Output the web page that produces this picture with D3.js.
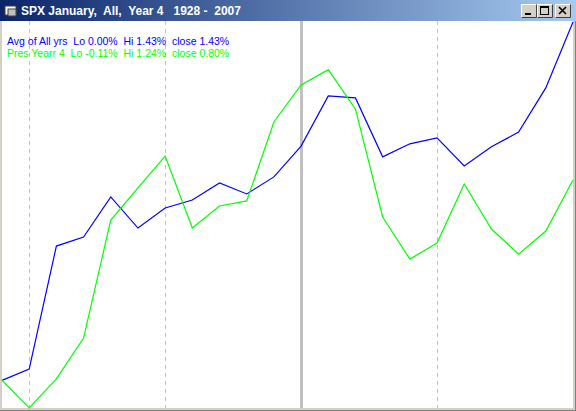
<!DOCTYPE html>
<html lang="en">
<head>
<meta charset="UTF-8">
<title>SPX January, All, Year 4</title>
<script src="https://d3js.org/d3.v7.min.js"></script>
<style>
  body { margin: 0; background: #d4d0c8; }
  svg { display: block; }
</style>
</head>
<body>
<svg id="chart" width="576" height="411"></svg>
<script>
// trading days of January (0 = prior close)
const days = d3.range(0, 22);

// average of all years, % change from start
const avgAll = [0, 0.045, 0.536, 0.572, 0.732, 0.608, 0.688, 0.720, 0.788, 0.744, 0.812,
                0.935, 1.135, 1.127, 0.892, 0.944, 0.968, 0.856, 0.932, 0.991, 1.167, 1.43];

// presidential year 4
const presYear4 = [0, -0.11, 0.006, 0.169, 0.640, 0.768, 0.895, 0.608, 0.696, 0.716, 1.031,
                   1.179, 1.24, 1.082, 0.652, 0.484, 0.548, 0.784, 0.604, 0.504, 0.596, 0.80];

const weekMarks = [1, 6, 16];   // dashed
const midMark = 11;             // solid

const title = "SPX January,  All,  Year 4   1928 -  2007";
const legend = [
  { text: "Avg of All yrs  Lo 0.00%  Hi 1.43%  close 1.43%", color: "#0000ff" },
  { text: "Pres Yearr 4  Lo -0.11%  Hi 1.24%  close 0.80%", color: "#00ff00" }
];

const svg = d3.select("#chart");

// window title bar
const grad = svg.append("defs").append("linearGradient").attr("id", "tb");
grad.append("stop").attr("offset", "0%").attr("stop-color", "#0a246a");
grad.append("stop").attr("offset", "100%").attr("stop-color", "#a6caf0");
svg.append("rect").attr("x", 0).attr("y", 0).attr("width", 576).attr("height", 21).attr("fill", "url(#tb)");

// little icon
const icon = svg.append("g").attr("transform", "translate(5,5)");
icon.append("rect").attr("x", 0).attr("y", 1).attr("width", 11).attr("height", 9).attr("fill", "#ffffff").attr("stroke", "#404040").attr("stroke-width", 1);
icon.append("rect").attr("x", 3).attr("y", 4).attr("width", 8).attr("height", 7).attr("fill", "#c0c0c0").attr("stroke", "#404040").attr("stroke-width", 1);

svg.append("text")
  .attr("x", 21).attr("y", 15)
  .attr("fill", "#ffffff")
  .style("font-family", "'Liberation Sans', Arial, sans-serif")
  .style("font-size", "12px")
  .style("font-weight", "bold")
  .style("white-space", "pre")
  .text(title);

// title buttons
const btns = [{ x: 521, s: "min" }, { x: 537, s: "max" }, { x: 555, s: "close" }];
btns.forEach(b => {
  const g = svg.append("g").attr("transform", `translate(${b.x},4)`);
  g.append("rect").attr("width", 16).attr("height", 14).attr("fill", "#d4d0c8");
  g.append("path").attr("d", "M0.5,13.5 V0.5 H15.5").attr("stroke", "#ffffff").attr("fill", "none");
  g.append("path").attr("d", "M0.5,13.5 H15.5 V0.5").attr("stroke", "#404040").attr("fill", "none");
  if (b.s === "min") {
    g.append("rect").attr("x", 4).attr("y", 9).attr("width", 6).attr("height", 2).attr("fill", "#000");
  } else if (b.s === "max") {
    g.append("rect").attr("x", 3.5).attr("y", 2.5).attr("width", 8).attr("height", 8).attr("fill", "none").attr("stroke", "#000");
    g.append("rect").attr("x", 3).attr("y", 2).attr("width", 9).attr("height", 2).attr("fill", "#000");
  } else {
    g.append("path").attr("d", "M4,3 L11,10 M11,3 L4,10").attr("stroke", "#000").attr("stroke-width", 1.6);
  }
});

// plot area
const plotL = 2, plotR = 573, plotT = 22, plotB = 408;
svg.append("rect").attr("x", plotL).attr("y", 21).attr("width", plotR - plotL).attr("height", plotB - 21).attr("fill", "#ffffff");
svg.append("line").attr("x1", 575.5).attr("x2", 575.5).attr("y1", 21).attr("y2", 411).attr("stroke", "#808080");
svg.append("line").attr("x1", 0).attr("x2", 576).attr("y1", 410.5).attr("y2", 410.5).attr("stroke", "#808080");

const x = d3.scaleLinear().domain([0, 21]).range([plotL, plotR]);
const y = d3.scaleLinear().domain([-0.11, 1.43]).range([plotB, plotT]);

svg.selectAll(".wk")
  .data(weekMarks)
  .enter().append("line")
  .attr("class", "wk")
  .attr("x1", d => Math.round(x(d)) + 0.5).attr("x2", d => Math.round(x(d)) + 0.5)
  .attr("y1", 21).attr("y2", plotB)
  .attr("stroke", "#c0c0c0")
  .attr("stroke-dasharray", "4,4");

svg.append("line")
  .attr("x1", Math.round(x(midMark)) + 0.5).attr("x2", Math.round(x(midMark)) + 0.5)
  .attr("y1", 21).attr("y2", plotB)
  .attr("stroke", "#c0c0c0")
  .attr("stroke-width", 3);

const line = d3.line().x((d, i) => x(days[i])).y(d => y(d));

svg.append("path").datum(avgAll)
  .attr("d", line).attr("fill", "none")
  .attr("stroke", "#0000ff").attr("stroke-width", 1.2);

svg.append("path").datum(presYear4)
  .attr("d", line).attr("fill", "none")
  .attr("stroke", "#00ff00").attr("stroke-width", 1.2);

// legend text
svg.selectAll(".lg")
  .data(legend)
  .enter().append("text")
  .attr("class", "lg")
  .attr("x", 7)
  .attr("y", (d, i) => 45 + i * 12)
  .attr("fill", d => d.color)
  .style("font-family", "'Liberation Sans', Arial, sans-serif")
  .style("font-size", "10.5px")
  .style("white-space", "pre")
  .text(d => d.text);
</script>
</body>
</html>
